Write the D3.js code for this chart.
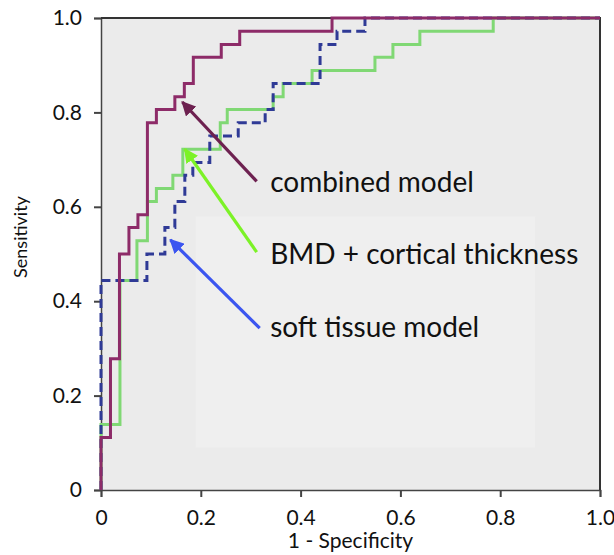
<!DOCTYPE html>
<html>
<head>
<meta charset="utf-8">
<script src="https://cdn.jsdelivr.net/npm/d3@7"></script>
<style>
  body { margin: 0; background: #fff; }
  text { font-family: Lato, "Open Sans", sans-serif; }
</style>
</head>
<body>
<div id="chart"></div>
<script>
// ROC corners (fpr, sens), drawn with curveStepBefore: up first, then right
var combinedFpr  = [0, 0.019, 0.037, 0.056, 0.074, 0.093, 0.111, 0.148, 0.167, 0.185, 0.241, 0.278, 0.463, 1];
var combinedSens = [0, 0.111, 0.278, 0.5, 0.556, 0.583, 0.778, 0.806, 0.833, 0.861, 0.917, 0.944, 0.972, 1];

var bmdFpr  = [0, 0.038, 0.072, 0.093, 0.111, 0.144, 0.164, 0.239, 0.253, 0.345, 0.365, 0.423, 0.549, 0.585, 0.639, 0.786, 1];
var bmdSens = [0, 0.139, 0.444, 0.528, 0.611, 0.639, 0.667, 0.722, 0.778, 0.806, 0.833, 0.861, 0.889, 0.917, 0.944, 0.972, 1];

var softFpr  = [0, 0.092, 0.128, 0.148, 0.168, 0.184, 0.218, 0.275, 0.329, 0.345, 0.439, 0.473, 0.529, 1];
var softSens = [0, 0.444, 0.5, 0.556, 0.611, 0.667, 0.694, 0.75, 0.778, 0.806, 0.861, 0.944, 0.972, 1];

var tickValues = [0, 0.2, 0.4, 0.6, 0.8, 1.0];
var tickLabels = ["0", "0.2", "0.4", "0.6", "0.8", "1.0"];

var labelNames = ["combined model", "BMD + cortical thickness", "soft tissue model"];

var svgWidth = 614;
var svgHeight = 555;

var margin = { top: 18, right: 14, bottom: 65, left: 101 };
var width = 600 - margin.left;
var height = 490 - margin.top;

var svg = d3.select("#chart")
  .append("svg")
  .attr("width", svgWidth)
  .attr("height", svgHeight);

var defs = svg.append("defs");
function marker(id, color) {
  defs.append("marker")
    .attr("id", id)
    .attr("viewBox", "0 0 10 10")
    .attr("refX", 9)
    .attr("refY", 5)
    .attr("markerWidth", 4.5)
    .attr("markerHeight", 4.5)
    .attr("markerUnits", "strokeWidth")
    .attr("orient", "auto")
    .append("path")
    .attr("d", "M0,0 L10,5 L0,10 z")
    .attr("fill", color);
}

var chartGroup = svg.append("g")
  .attr("transform", `translate(${margin.left}, ${margin.top})`);

var x = d3.scaleLinear().domain([0, 1]).range([0, width]);
var y = d3.scaleLinear().domain([0, 1]).range([height, 0]);

// plot background
chartGroup.append("rect")
  .attr("width", width)
  .attr("height", height)
  .attr("fill", "#ebebeb");

// faint lighter panel behind the labels
chartGroup.append("rect")
  .attr("x", x(0.19))
  .attr("y", y(0.58))
  .attr("width", x(0.87) - x(0.19))
  .attr("height", y(0.09) - y(0.58))
  .attr("fill", "#efefef");

// axes
var leftAxis = d3.axisLeft(y).tickValues(tickValues)
  .tickFormat((d, i) => tickLabels[i]).tickSize(7).tickPadding(12);
var bottomAxis = d3.axisBottom(x).tickValues(tickValues)
  .tickFormat((d, i) => tickLabels[i]).tickSize(7).tickPadding(13);

var yAxis = chartGroup.append("g").call(leftAxis);
var xAxis = chartGroup.append("g")
  .attr("transform", `translate(0, ${height})`)
  .call(bottomAxis);

[xAxis, yAxis].forEach(function(a) {
  a.select(".domain").attr("stroke", "#444").attr("stroke-width", 1.5);
  a.selectAll(".tick line").attr("stroke", "#444").attr("stroke-width", 2);
  a.selectAll(".tick text")
    .attr("fill", "#111")
    .style("font-size", "21px")
    .style("font-family", "Lato, 'Open Sans', sans-serif");
});

// top and right border
chartGroup.append("path")
  .attr("d", `M0,${y(1)} H${x(1)} V${y(0)}`)
  .attr("fill", "none")
  .attr("stroke", "#333")
  .attr("stroke-width", 2);

function rocPath(fpr, sens) {
  var pts = fpr.map((f, i) => [f, sens[i]]);
  return d3.line()
    .x(d => x(d[0]))
    .y(d => y(d[1]))
    .curve(d3.curveStepBefore)(pts);
}

chartGroup.append("path")
  .attr("d", rocPath(bmdFpr, bmdSens))
  .attr("fill", "none")
  .attr("stroke", "#80d874")
  .attr("stroke-width", 3);

chartGroup.append("path")
  .attr("d", rocPath(softFpr, softSens))
  .attr("fill", "none")
  .attr("stroke", "#2f3a96")
  .attr("stroke-width", 3)
  .attr("stroke-dasharray", "9,5");

chartGroup.append("path")
  .attr("d", rocPath(combinedFpr, combinedSens))
  .attr("fill", "none")
  .attr("stroke", "#8d2b68")
  .attr("stroke-width", 3);

// annotations: label position and arrow in data units
var notes = [
  { text: labelNames[0], tx: 0.339, ty: 0.653, from: [0.312, 0.654], to: [0.163, 0.822], color: "#6d2150", id: "mPurple" },
  { text: labelNames[1], tx: 0.339, ty: 0.499, from: [0.312, 0.504], to: [0.168, 0.722], color: "#7cf227", id: "mGreen" },
  { text: labelNames[2], tx: 0.339, ty: 0.344, from: [0.318, 0.343], to: [0.139, 0.530], color: "#3b55f0", id: "mBlue" }
];

notes.forEach(function(n) {
  marker(n.id, n.color);
  chartGroup.append("line")
    .attr("x1", x(n.from[0])).attr("y1", y(n.from[1]))
    .attr("x2", x(n.to[0])).attr("y2", y(n.to[1]))
    .attr("stroke", n.color)
    .attr("stroke-width", 3.2)
    .attr("marker-end", `url(#${n.id})`);
  chartGroup.append("text")
    .attr("x", x(n.tx))
    .attr("y", y(n.ty))
    .attr("dy", "0.35em")
    .attr("fill", "#111")
    .style("font-size", "28px")
    .text(n.text);
});

// axis titles
chartGroup.append("text")
  .attr("transform", "rotate(-90)")
  .attr("x", 0 - height / 2 + 17)
  .attr("y", 0 - margin.left + 27)
  .attr("text-anchor", "middle")
  .attr("fill", "#111")
  .style("font-size", "18px")
  .text("Sensitivity");

chartGroup.append("text")
  .attr("x", width / 2)
  .attr("y", height + 58)
  .attr("text-anchor", "middle")
  .attr("fill", "#111")
  .style("font-size", "21px")
  .text("1 - Specificity");
</script>
</body>
</html>
